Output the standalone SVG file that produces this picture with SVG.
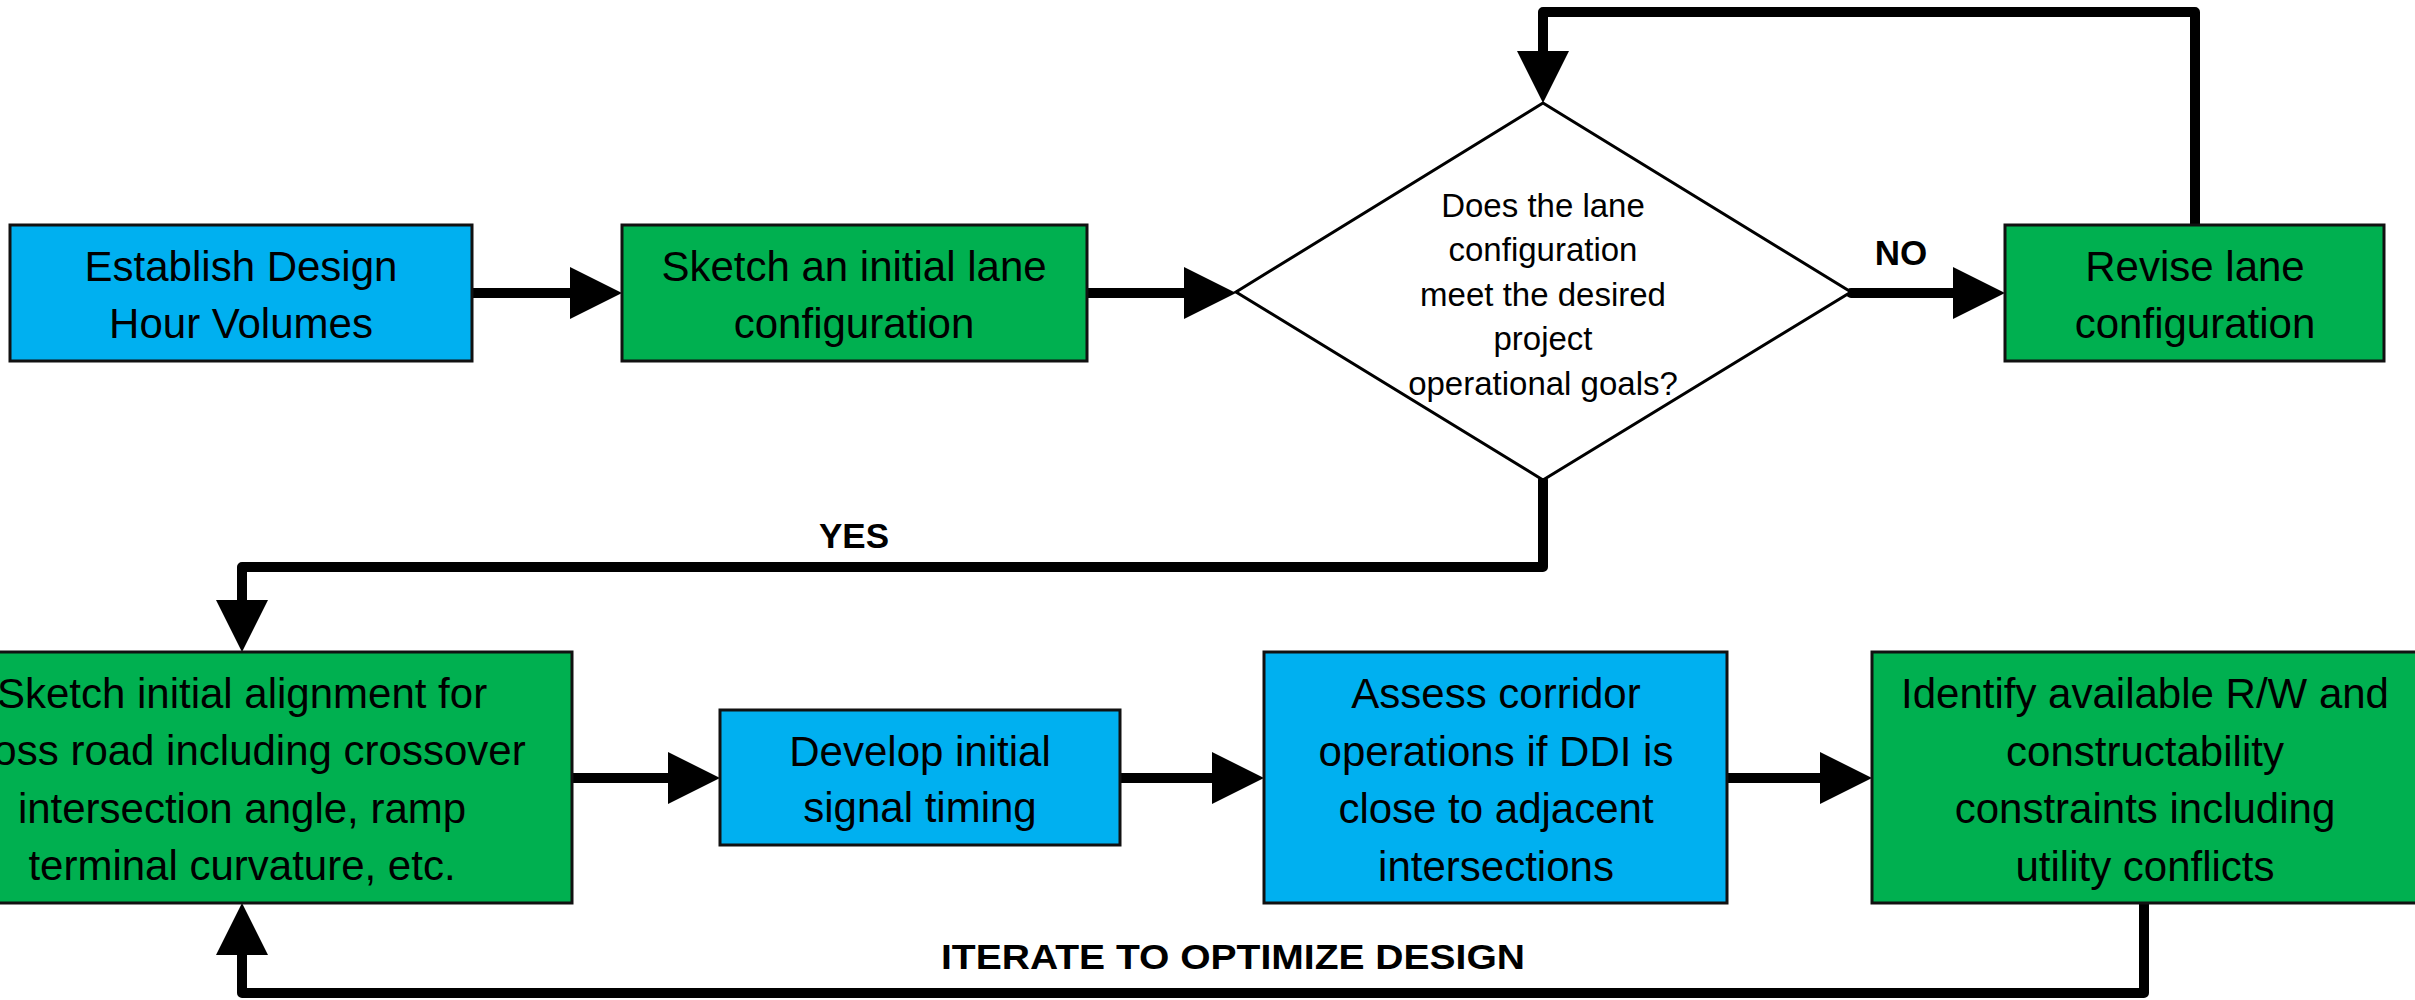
<svg xmlns="http://www.w3.org/2000/svg" width="2415" height="1000" viewBox="0 0 2415 1000">
<defs>
<style>
.blue{fill:#00B0F0;stroke:#111;stroke-width:3}
.green{fill:#00B050;stroke:#111;stroke-width:3}
.dia{fill:#fff;stroke:#000;stroke-width:3}
.t{font-family:"Liberation Sans",Arial,sans-serif;font-size:42px;fill:#000;text-anchor:middle}
.d{font-family:"Liberation Sans",Arial,sans-serif;font-size:33px;fill:#000;text-anchor:middle}
.lbl{font-family:"Liberation Sans",Arial,sans-serif;font-size:35px;font-weight:bold;fill:#000;text-anchor:middle}
.c{fill:none;stroke:#000;stroke-width:10;stroke-linecap:round;stroke-linejoin:round;marker-end:url(#ah)}
</style>
<marker id="ah" markerUnits="userSpaceOnUse" markerWidth="52" markerHeight="52" viewBox="0 0 52 52" refX="0" refY="26" orient="auto">
<path d="M0,0 L52,26 L0,52 Z" fill="#000"/>
</marker>
</defs>
<rect width="2415" height="1000" fill="#fff"/>

<g id="connectors">
<path class="c" d="M472,293 H570"/>
<path class="c" d="M1087,293 H1184"/>
<path class="c" d="M1851,293 H1953"/>
<path class="c" d="M2195,225 V12 H1543 V51"/>
<path class="c" d="M1543,480 V567 H242 V600"/>
<path class="c" d="M572,778 H668"/>
<path class="c" d="M1120,778 H1212"/>
<path class="c" d="M1727,778 H1820"/>
<path class="c" d="M2144,903 V993 H242 V955"/>
<text class="lbl" x="1901" y="265">NO</text>
<text class="lbl" x="854" y="548">YES</text>
<text class="lbl" x="1233" y="969" textLength="584" lengthAdjust="spacingAndGlyphs">ITERATE TO OPTIMIZE DESIGN</text>
</g>

<g id="establish">
<rect class="blue" x="10" y="225" width="462" height="136"/>
<text class="t" x="241" y="281">Establish Design</text>
<text class="t" x="241" y="338">Hour Volumes</text>
</g>

<g id="sketch-lane">
<rect class="green" x="622" y="225" width="465" height="136"/>
<text class="t" x="854" y="281">Sketch an initial lane</text>
<text class="t" x="854" y="338">configuration</text>
</g>

<g id="decision">
<polygon class="dia" points="1543,103 1851,292 1543,480 1236,292"/>
<text class="d" x="1543" y="217">Does the lane</text>
<text class="d" x="1543" y="261">configuration</text>
<text class="d" x="1543" y="306">meet the desired</text>
<text class="d" x="1543" y="350">project</text>
<text class="d" x="1543" y="395">operational goals?</text>
</g>

<g id="revise">
<rect class="green" x="2005" y="225" width="379" height="136"/>
<text class="t" x="2195" y="281">Revise lane</text>
<text class="t" x="2195" y="338">configuration</text>
</g>

<g id="sketch-alignment">
<rect class="green" x="-88" y="652" width="660" height="251"/>
<text class="t" x="242" y="708">Sketch initial alignment for</text>
<text class="t" x="242" y="765">cross road including crossover</text>
<text class="t" x="242" y="823">intersection angle, ramp</text>
<text class="t" x="242" y="880">terminal curvature, etc.</text>
</g>

<g id="signal-timing">
<rect class="blue" x="720" y="710" width="400" height="135"/>
<text class="t" x="920" y="766">Develop initial</text>
<text class="t" x="920" y="822">signal timing</text>
</g>

<g id="corridor">
<rect class="blue" x="1264" y="652" width="463" height="251"/>
<text class="t" x="1496" y="708">Assess corridor</text>
<text class="t" x="1496" y="766">operations if DDI is</text>
<text class="t" x="1496" y="823">close to adjacent</text>
<text class="t" x="1496" y="881">intersections</text>
</g>

<g id="constraints">
<rect class="green" x="1872" y="652" width="548" height="251"/>
<text class="t" x="2145" y="708">Identify available R/W and</text>
<text class="t" x="2145" y="766">constructability</text>
<text class="t" x="2145" y="823">constraints including</text>
<text class="t" x="2145" y="881">utility conflicts</text>
</g>
</svg>
